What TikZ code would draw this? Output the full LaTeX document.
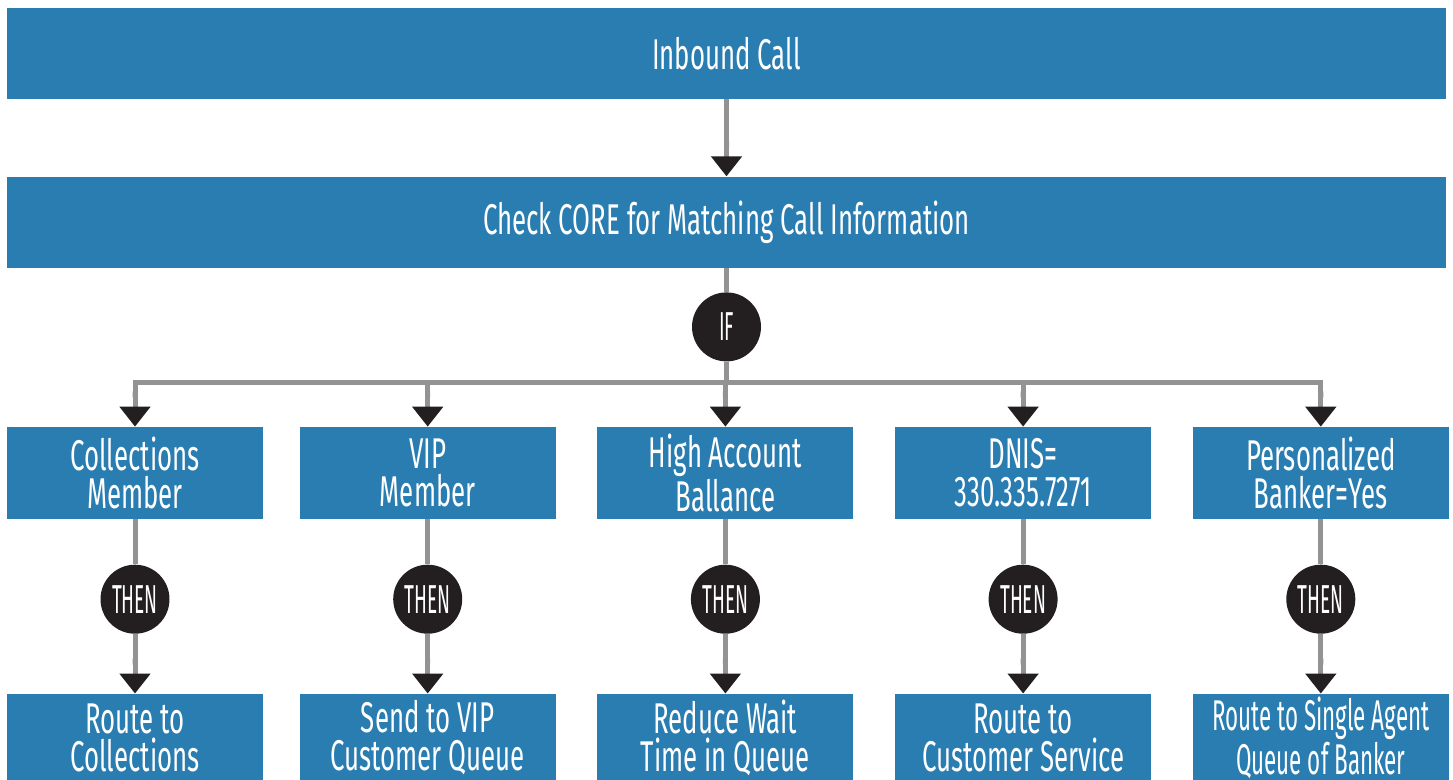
\documentclass[tikz,border=0pt]{standalone}
\usepackage{fontspec}
\setmainfont{Fira Sans}[FakeStretch=0.6]
\newfontfamily\narrowfont{Fira Sans}[FakeStretch=0.52]
\newfontfamily\dotfont{Fira Sans}[FakeStretch=0.47]
\usetikzlibrary{arrows.meta,chains,positioning,scopes}
\definecolor{boxblue}{RGB}{41,125,177}
\definecolor{wiregray}{RGB}{147,147,147}
\definecolor{dotblack}{RGB}{35,31,32}
\newcommand*{\TipGap}{0.18cm}

\begin{document}
\begin{tikzpicture}[
  every node/.style={font=\fontsize{24.5}{21.5}\selectfont,text=white,align=center},
  wide/.style={fill=boxblue,minimum width=28.78cm,minimum height=1.82cm,inner sep=0pt},
  cond/.style={fill=boxblue,minimum width=5.12cm,minimum height=1.84cm,inner sep=0pt},
  act/.style={fill=boxblue,minimum width=5.12cm,minimum height=1.76cm,inner sep=0pt},
  dot/.style={circle,fill=dotblack,minimum size=1.38cm,inner sep=0pt,
    font=\dotfont\fontsize{23}{23}\selectfont},
  wire/.style={draw=wiregray,line width=0.1cm},
  flow/.style={wire,-{Butt Cap[sep=\TipGap] Triangle[color=dotblack,width=0.6cm,length=0.4cm]}}]
\useasboundingbox (0,0) rectangle (29.06,-15.6);
\node[wide] (inbound) at (14.53,-1.07) {Inbound Call};
\node[wide,below=1.54cm of inbound] (check) {Check CORE for Matching Call Information};
\node[dot,below=0.48cm of check] (ifdot) {IF};
\coordinate[below=0.42cm of ifdot] (bus);
{[start chain=going right,node distance=0.82cm]
\node[on chain,cond] (c1) at (2.70,-9.46) {Collections\\Member};
\node[on chain,cond,right=0.72cm of c1] (c2) {VIP\\Member};
\node[on chain,cond] (c3) {High Account\\Ballance};
\node[on chain,cond] (c4) {DNIS=\\330.335.7271};
\node[on chain,cond] (c5) {Personalized\\Banker=Yes};}
\node[dot,below=0.9cm of c1] (t1) {THEN};
\node[dot,below=0.9cm of c2] (t2) {THEN};
\node[dot,below=0.9cm of c3] (t3) {THEN};
\node[dot,below=0.9cm of c4] (t4) {THEN};
\node[dot,below=0.9cm of c5] (t5) {THEN};
\node[act,below=1.19cm of t1] (a1) {Route to\\Collections};
\node[act,below=1.19cm of t2] (a2) {Send to VIP\\Customer Queue};
\node[act,below=1.19cm of t3] (a3) {Reduce Wait\\Time in Queue};
\node[act,below=1.19cm of t4] (a4) {Route to\\Customer Service};
\node[act,below=1.19cm of t5,font=\narrowfont\fontsize{24.5}{21.5}\selectfont] (a5)
  {Route to Single Agent\\Queue of Banker};
\draw[flow] (inbound) -- (check);
\draw[wire] (check) -- (ifdot);
\draw[wire] (ifdot) -- (bus);
\draw[flow] (bus) -| (c1);
\draw[flow] (bus) -| (c2);
\draw[flow] (bus) -| (c3);
\draw[flow] (bus) -| (c4);
\draw[flow] (bus) -| (c5);
\draw[wire] (c1) -- (t1);
\draw[wire] (c2) -- (t2);
\draw[wire] (c3) -- (t3);
\draw[wire] (c4) -- (t4);
\draw[wire] (c5) -- (t5);
\draw[flow] (t1) -- (a1);
\draw[flow] (t2) -- (a2);
\draw[flow] (t3) -- (a3);
\draw[flow] (t4) -- (a4);
\draw[flow] (t5) -- (a5);
\end{tikzpicture}
\end{document}
